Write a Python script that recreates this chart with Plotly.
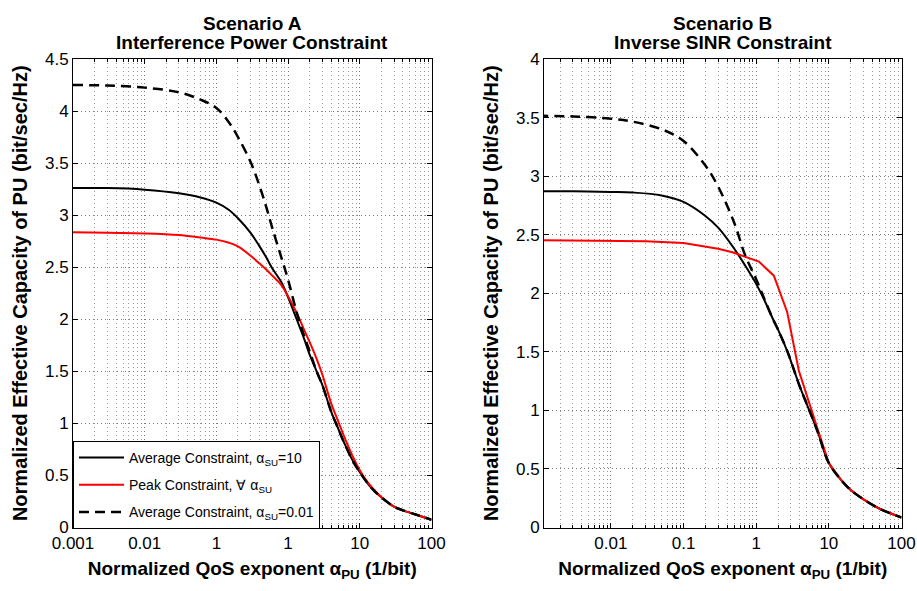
import plotly.graph_objects as go

# ---- Scenario A: interference power constraint ----
xa = [0.001, 0.003, 0.01, 0.03, 0.06, 0.1, 0.15, 0.2, 0.3, 0.4, 0.5, 0.6, 0.8,
      1.0, 1.3, 1.6, 2, 2.5, 3, 4, 5, 6, 8, 10, 13, 16, 20, 30, 40, 60, 100]
a_avg10 = [3.26, 3.26, 3.245, 3.21, 3.17, 3.12, 3.05, 2.97, 2.83, 2.70, 2.59, 2.49, 2.36,
           2.21, 2.01, 1.85, 1.66, 1.50, 1.37, 1.11, 0.95, 0.82, 0.64, 0.53, 0.42, 0.35,
           0.29, 0.20, 0.165, 0.125, 0.075]
a_peak = [2.835, 2.83, 2.825, 2.81, 2.785, 2.765, 2.735, 2.70, 2.61, 2.535, 2.475, 2.42, 2.33,
          2.22, 2.07, 1.93, 1.78, 1.62, 1.47, 1.19, 1.02, 0.88, 0.68, 0.55, 0.43, 0.36,
          0.29, 0.20, 0.165, 0.125, 0.075]
a_avg001 = [4.25, 4.245, 4.225, 4.18, 4.11, 4.03, 3.89, 3.75, 3.51, 3.28, 3.07, 2.88, 2.60,
            2.38, 2.08, 1.88, 1.69, 1.50, 1.37, 1.11, 0.95, 0.82, 0.64, 0.53, 0.42, 0.35,
            0.29, 0.20, 0.165, 0.125, 0.075]

# ---- Scenario B: inverse SINR constraint ----
xb = [0.001, 0.003, 0.01, 0.02, 0.05, 0.1, 0.2, 0.3, 0.5, 0.7, 1.0, 1.3, 1.7, 2.0,
      2.7, 4, 5, 7, 10, 15, 20, 30, 50, 100]
b_avg10 = [2.87, 2.87, 2.865, 2.86, 2.835, 2.78, 2.66, 2.56, 2.38, 2.24, 2.08, 1.94, 1.78,
           1.69, 1.50, 1.20, 1.05, 0.82, 0.55, 0.40, 0.32, 0.24, 0.16, 0.085]
b_avg001 = [3.515, 3.51, 3.49, 3.465, 3.40, 3.30, 3.09, 2.91, 2.60, 2.33, 2.12, 1.95, 1.78,
            1.69, 1.50, 1.20, 1.05, 0.82, 0.55, 0.40, 0.32, 0.24, 0.16, 0.085]
xb_peak = [0.001, 0.01, 0.03, 0.1, 0.16, 0.3, 0.47, 0.7, 1.09, 1.75, 2.67, 3.86, 5.2,
           7.0, 10, 15, 20, 30, 50, 100]
b_peak = [2.452, 2.451, 2.445, 2.43, 2.41, 2.38, 2.35, 2.31, 2.27, 2.15, 1.84, 1.34, 1.08,
          0.84, 0.55, 0.40, 0.32, 0.24, 0.16, 0.085]

names = ["Average Constraint, α<sub>SU</sub>=10",
         "Peak Constraint, ∀ α<sub>SU</sub>",
         "Average Constraint, α<sub>SU</sub>=0.01"]

xticks_a = [0.001, 0.01, 0.1, 1, 10, 100]
xtext_a = ["0.001", "0.01", "1", "1", "10", "100"]
xticks_b = [0.01, 0.1, 1, 10, 100]
xtext_b = ["0.01", "0.1", "1", "10", "100"]

FONT = "Liberation Sans, Arial, Helvetica, sans-serif"
W, H = 917, 591

black = dict(color="black", width=2)
red = dict(color="#ff0000", width=2)
dashed = dict(color="black", width=2.5, dash="10px,6px")

fig = go.Figure()
# left panel (carries the legend)
fig.add_trace(go.Scatter(x=xa, y=a_avg10, mode="lines", line=dict(black, shape="spline"),
                         name=names[0], legendgroup="g1", xaxis="x", yaxis="y"))
fig.add_trace(go.Scatter(x=xa, y=a_peak, mode="lines", line=dict(red, shape="spline"),
                         name=names[1], legendgroup="g2", xaxis="x", yaxis="y"))
fig.add_trace(go.Scatter(x=xa, y=a_avg001, mode="lines", line=dict(dashed, shape="spline"),
                         name=names[2], legendgroup="g3", xaxis="x", yaxis="y"))
# right panel
fig.add_trace(go.Scatter(x=xb, y=b_avg10, mode="lines", line=dict(black, shape="spline"),
                         showlegend=False, xaxis="x2", yaxis="y2"))
fig.add_trace(go.Scatter(x=xb_peak, y=b_peak, mode="lines", line=red,
                         showlegend=False, xaxis="x2", yaxis="y2"))
fig.add_trace(go.Scatter(x=xb, y=b_avg001, mode="lines", line=dict(dashed, shape="spline"),
                         showlegend=False, xaxis="x2", yaxis="y2"))

grid_major = "#7a7a7a"
grid_minor = "#9a9a9a"
TICKFONT = dict(family=FONT, size=17, color="black")


def xaxis(domain, rng, tv, tt):
    return dict(
        type="log", domain=domain, range=rng, tickmode="array", tickvals=tv, ticktext=tt,
        ticks="inside", ticklen=5, tickcolor="black", mirror="allticks", showline=True,
        linecolor="black", linewidth=1, showgrid=True, gridcolor=grid_major, gridwidth=1,
        griddash="1px,3px", zeroline=False, tickfont=TICKFONT,
        minor=dict(dtick="D1", ticks="inside", ticklen=3, tickcolor="black", showgrid=True,
                   gridcolor=grid_minor, gridwidth=1, griddash="1px,3px"),
        title=dict(text="Normalized QoS exponent α<sub>PU</sub> (1/bit)", standoff=9,
                   font=dict(family=FONT, size=19, color="black", weight="bold")),
        automargin=False,
    )


def yaxis(domain, top, anchor):
    return dict(
        domain=domain, range=[0, top], tick0=0, dtick=0.5, anchor=anchor,
        ticks="inside", ticklen=5, tickcolor="black", mirror="allticks", showline=True,
        linecolor="black", linewidth=1, showgrid=True, gridcolor=grid_major, gridwidth=1,
        griddash="1px,3px", zeroline=False, tickfont=TICKFONT,
        title=dict(text="Normalized Effective Capacity of PU (bit/sec/Hz)", standoff=11,
                   font=dict(family=FONT, size=20, color="black", weight="bold")),
        automargin=False,
    )


ydom = [1 - 527.5 / H, 1 - 59 / H]
dom_a = [73 / W, 431.5 / W]
dom_b = [544 / W, 901.5 / W]

fig.update_layout(
    width=W, height=H, margin=dict(l=0, r=0, t=0, b=0),
    paper_bgcolor="white", plot_bgcolor="white",
    font=dict(family=FONT, color="black"),
    xaxis=xaxis(dom_a, [-3, 2], xticks_a, xtext_a),
    yaxis=yaxis(ydom, 4.5, "x"),
    xaxis2=xaxis(dom_b, [-2.92, 2], xticks_b, xtext_b) | dict(anchor="y2"),
    yaxis2=yaxis(ydom, 4, "x2"),
    legend=dict(x=73 / W, y=1 - 441 / H, xanchor="left", yanchor="top",
                bgcolor="white", bordercolor="black", borderwidth=1, itemwidth=45,
                font=dict(family=FONT, size=14, color="black"), tracegroupgap=6),
    showlegend=True,
)

titles = [("Scenario A", "Interference Power Constraint", sum(dom_a) / 2),
          ("Scenario B", "Inverse SINR Constraint", sum(dom_b) / 2)]
for line1, line2, cx in titles:
    for txt, ypix in ((line1, 23), (line2, 43)):
        fig.add_annotation(x=cx, y=1 - ypix / H, xref="paper", yref="paper",
                           text=txt, showarrow=False, xanchor="center", yanchor="middle",
                           font=dict(family=FONT, size=19, color="black", weight="bold"))

fig.write_html("out.html")
